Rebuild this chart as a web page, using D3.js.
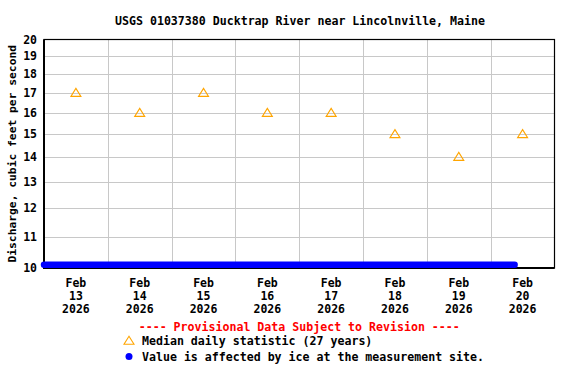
<!DOCTYPE html>
<html>
<head>
<meta charset="utf-8">
<script src="https://cdn.jsdelivr.net/npm/d3@7"></script>
<style>
  body { margin: 0; background: #fff; }
  svg { display: block; }
  text { font-family: "DejaVu Sans Mono", monospace; font-weight: bold; }
</style>
</head>
<body>
<div id="chart"></div>
<script>
const title = "USGS 01037380 Ducktrap River near Lincolnville, Maine";
const yLabel = "Discharge, cubic feet per second";
const yTicks = [10, 11, 12, 13, 14, 15, 16, 17, 18, 19, 20];
const dayTicks = ["2026-02-13", "2026-02-14", "2026-02-15", "2026-02-16", "2026-02-17", "2026-02-18", "2026-02-19", "2026-02-20", "2026-02-21"];
// median daily statistic, plotted at noon
const medianDates = ["2026-02-13T12:00", "2026-02-14T12:00", "2026-02-15T12:00", "2026-02-16T12:00", "2026-02-17T12:00", "2026-02-18T12:00", "2026-02-19T12:00", "2026-02-20T12:00"];
const medianValues = [17, 16, 17, 16, 16, 15, 14, 15];
// ice-affected record (shown along the bottom of the plot)
const iceDates = ["2026-02-13T00:00", "2026-02-20T09:00"];
const iceValues = [10.1, 10.1];

const width = 576, height = 384;
const margin = { top: 39.5, right: 21.5, bottom: 116, left: 44 };
const parse = d3.isoParse;

const svg = d3.select("#chart").append("svg").attr("width", width).attr("height", height);

const x = d3.scaleTime()
  .domain([parse(dayTicks[0]), parse(dayTicks[dayTicks.length - 1])])
  .range([margin.left, width - margin.right]);
const y = d3.scaleLog()
  .domain([10, 20])
  .range([height - margin.bottom, margin.top]);

// grid
svg.append("g")
  .selectAll("line.v")
  .data(dayTicks.slice(1, -1))
  .join("line")
  .attr("x1", (d) => Math.round(x(parse(d))) + 0.5)
  .attr("x2", (d) => Math.round(x(parse(d))) + 0.5)
  .attr("y1", y(20))
  .attr("y2", y(10))
  .attr("stroke", "#c8c8c8")
  .attr("stroke-width", 1);
svg.append("g")
  .selectAll("line.h")
  .data(yTicks.slice(1, -1))
  .join("line")
  .attr("x1", x.range()[0])
  .attr("x2", x.range()[1])
  .attr("y1", (d) => Math.round(y(d)) + 0.5)
  .attr("y2", (d) => Math.round(y(d)) + 0.5)
  .attr("stroke", "#c8c8c8")
  .attr("stroke-width", 1);

// frame
svg.append("rect")
  .attr("x", x.range()[0])
  .attr("y", y(20))
  .attr("width", x.range()[1] - x.range()[0])
  .attr("height", y(10) - y(20))
  .attr("fill", "none")
  .attr("stroke", "#000")
  .attr("stroke-width", 1.2);
svg.append("path")
  .attr("d", `M${x.range()[0]},${y(20)}V${y(10)}H${x.range()[1]}`)
  .attr("fill", "none")
  .attr("stroke", "#000")
  .attr("stroke-width", 2);

// y tick labels
svg.append("g")
  .selectAll("text")
  .data(yTicks)
  .join("text")
  .attr("x", 37)
  .attr("y", (d) => y(d))
  .attr("dy", "0.35em")
  .attr("text-anchor", "end")
  .attr("font-size", 11.5)
  .text((d) => d);

// x tick labels at noon
const xl = svg.append("g")
  .selectAll("text")
  .data(dayTicks.slice(0, -1))
  .join("text")
  .attr("x", (d) => x(d3.timeHour.offset(parse(d), 12)))
  .attr("y", 283)
  .attr("dy", "0.35em")
  .attr("text-anchor", "middle")
  .attr("font-size", 11.5);
xl.each(function (d) {
  const dt = parse(d);
  const t = d3.select(this);
  t.append("tspan").attr("x", t.attr("x")).text(d3.timeFormat("%b")(dt));
  t.append("tspan").attr("x", t.attr("x")).attr("dy", 12.8).text(d3.timeFormat("%d")(dt));
  t.append("tspan").attr("x", t.attr("x")).attr("dy", 12.8).text(d3.timeFormat("%Y")(dt));
});

// ice-affected series
const line = d3.line().x((d) => x(parse(d[0]))).y((d) => y(d[1]));
svg.append("path")
  .attr("d", line(d3.zip(iceDates, iceValues)))
  .attr("fill", "none")
  .attr("stroke", "#0000ff")
  .attr("stroke-width", 6.5)
  .attr("stroke-linecap", "round");

// medians: open triangle, 10 wide by 8 tall
const triangle = {
  draw(ctx) {
    ctx.moveTo(0, -4.7);
    ctx.lineTo(5, 3.3);
    ctx.lineTo(-5, 3.3);
    ctx.closePath();
  },
};
const tri = d3.symbol().type(triangle);
svg.append("g")
  .selectAll("path")
  .data(d3.zip(medianDates, medianValues))
  .join("path")
  .attr("transform", (d) => `translate(${x(parse(d[0]))},${y(d[1])})`)
  .attr("d", tri)
  .attr("fill", "none")
  .attr("stroke", "#ffa500")
  .attr("stroke-width", 1.1);

// title
svg.append("text")
  .attr("x", 300)
  .attr("y", 20.5)
  .attr("dy", "0.35em")
  .attr("text-anchor", "middle")
  .attr("font-size", 11.6)
  .text(title);

// y label
svg.append("text")
  .attr("transform", `translate(12,${(y(10) + y(20)) / 2}) rotate(-90)`)
  .attr("dy", "0.35em")
  .attr("text-anchor", "middle")
  .attr("font-size", 11.3)
  .text(yLabel);

// legend
svg.append("text")
  .attr("x", (x.range()[0] + x.range()[1]) / 2)
  .attr("y", 327)
  .attr("dy", "0.35em")
  .attr("text-anchor", "middle")
  .attr("font-size", 11.6)
  .attr("fill", "#ff0000")
  .text("---- Provisional Data Subject to Revision ----");
svg.append("path")
  .attr("transform", "translate(129,341)")
  .attr("d", tri)
  .attr("fill", "none")
  .attr("stroke", "#ffa500")
  .attr("stroke-width", 1.1);
svg.append("text")
  .attr("x", 142)
  .attr("y", 341)
  .attr("dy", "0.35em")
  .attr("font-size", 11.6)
  .text("Median daily statistic (27 years)");
svg.append("circle")
  .attr("cx", 129)
  .attr("cy", 356.5)
  .attr("r", 3.5)
  .attr("fill", "#0000ff");
svg.append("text")
  .attr("x", 142)
  .attr("y", 356.5)
  .attr("dy", "0.35em")
  .attr("font-size", 11.6)
  .text("Value is affected by ice at the measurement site.");
</script>
</body>
</html>
